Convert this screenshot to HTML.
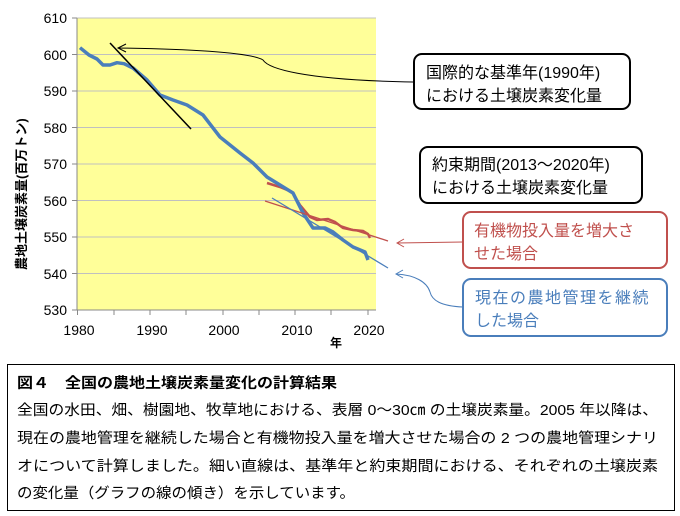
<!DOCTYPE html>
<html><head><meta charset="utf-8"><style>
html,body{margin:0;padding:0;background:#fff;}
svg{display:block;font-family:"Liberation Sans","Noto Sans CJK JP",sans-serif;}
</style></head><body>
<svg width="680" height="516" viewBox="0 0 680 516" xmlns="http://www.w3.org/2000/svg">
<rect x="77" y="18" width="299" height="292" fill="#ffff99"/>
<g stroke="#c0c0c0" stroke-width="1">
<line x1="77" y1="54.5" x2="376" y2="54.5"/><line x1="77" y1="91" x2="376" y2="91"/>
<line x1="77" y1="127.5" x2="376" y2="127.5"/><line x1="77" y1="164" x2="376" y2="164"/>
<line x1="77" y1="200.5" x2="376" y2="200.5"/><line x1="77" y1="237" x2="376" y2="237"/>
<line x1="77" y1="273.5" x2="376" y2="273.5"/><line x1="77" y1="18" x2="376" y2="18"/>
</g>
<g stroke="#888" stroke-width="1">
<line x1="77" y1="18" x2="77" y2="310"/><line x1="77" y1="310" x2="376" y2="310"/>
<line x1="72" y1="18" x2="77" y2="18"/><line x1="72" y1="54.5" x2="77" y2="54.5"/><line x1="72" y1="91" x2="77" y2="91"/><line x1="72" y1="127.5" x2="77" y2="127.5"/><line x1="72" y1="164" x2="77" y2="164"/><line x1="72" y1="200.5" x2="77" y2="200.5"/><line x1="72" y1="237" x2="77" y2="237"/><line x1="72" y1="273.5" x2="77" y2="273.5"/><line x1="72" y1="310" x2="77" y2="310"/>
<line x1="77.5" y1="310" x2="77.5" y2="315"/><line x1="114" y1="310" x2="114" y2="315"/><line x1="150" y1="310" x2="150" y2="315"/><line x1="186" y1="310" x2="186" y2="315"/><line x1="223" y1="310" x2="223" y2="315"/><line x1="259" y1="310" x2="259" y2="315"/><line x1="295" y1="310" x2="295" y2="315"/><line x1="331" y1="310" x2="331" y2="315"/><line x1="368" y1="310" x2="368" y2="315"/>
</g>
<g font-size="14" fill="#000" text-anchor="end">
<text x="67" y="23">610</text><text x="67" y="60">600</text><text x="67" y="96">590</text><text x="67" y="133">580</text><text x="67" y="169">570</text><text x="67" y="206">560</text><text x="67" y="242">550</text><text x="67" y="279">540</text><text x="67" y="315">530</text>
</g>
<g font-size="14" fill="#000" text-anchor="middle">
<text x="79" y="335">1980</text><text x="152" y="335">1990</text><text x="224" y="335">2000</text><text x="297" y="335">2010</text><text x="369" y="335">2020</text>
</g>
<text x="336" y="347" font-size="12" font-weight="bold" text-anchor="middle">年</text>
<text transform="translate(26,270) rotate(-90)" font-size="13" font-weight="bold">農地土壌炭素量(百万トン)</text>
<polyline fill="none" stroke="#c0504d" stroke-width="2.5" points="267,183 280,187 292,192 300,205 310,217 317,220 328,219 335,222 343,228 353,230 363,231 368,234 370,238"/>
<polyline fill="none" stroke="#4a7ebb" stroke-width="3.5" stroke-linejoin="round" points="80,47.7 89,55 97,59 103,65 110,65 117,62.7 124,63.7 133,68 147,80 160,95 173,100 187,105 203,115 220,137 240,153 253,163 267,177 280,185 293,193 303,213 313,228 325,228 333,232 343,240 353,247 365,252 368,260"/>
<line x1="110" y1="43" x2="191" y2="129" stroke="#000" stroke-width="1.5"/>
<line x1="265" y1="201" x2="388" y2="241" stroke="#c0504d" stroke-width="1.3"/>
<line x1="272" y1="198" x2="388" y2="268" stroke="#4a7ebb" stroke-width="1.3"/>
<path d="M118,48 C180,49 250,52 263,60 C268,68 300,80 413,82" fill="none" stroke="#000" stroke-width="1"/>
<path d="M126,44 L118,48 L126,52" fill="none" stroke="#000" stroke-width="1"/>
<path d="M463,242 L397,243" fill="none" stroke="#c0504d" stroke-width="1"/>
<path d="M404,239 L397,243 L404,247" fill="none" stroke="#c0504d" stroke-width="1"/>
<path d="M463,307 C440,306 432,300 430,292 C427,282 415,275 396,274" fill="none" stroke="#4a7ebb" stroke-width="1"/>
<path d="M403,270 L396,274 L403,278" fill="none" stroke="#4a7ebb" stroke-width="1"/>
<rect x="414" y="54" width="216" height="55" rx="8" fill="#fff" stroke="#000" stroke-width="2"/>
<rect x="420" y="147" width="222" height="56" rx="8" fill="#fff" stroke="#000" stroke-width="2"/>
<rect x="463" y="212" width="204" height="56" rx="8" fill="#fff" stroke="#c0504d" stroke-width="2"/>
<rect x="463" y="279" width="204" height="57" rx="8" fill="#fff" stroke="#4a7ebb" stroke-width="2"/>
<g font-size="16">
<text x="426" y="78">国際的な基準年(1990年)</text>
<text x="426" y="101">における土壌炭素変化量</text>
<text x="432" y="170">約束期間(2013～2020年)</text>
<text x="432" y="193">における土壌炭素変化量</text>
<text x="474" y="236" fill="#c0504d">有機物投入量を増大さ</text>
<text x="474" y="259" fill="#c0504d">せた場合</text>
<text x="475" y="303" fill="#4a7ebb" letter-spacing="1.5">現在の農地管理を継続</text>
<text x="475" y="326" fill="#4a7ebb">した場合</text>
</g>
<rect x="7.5" y="364.5" width="667" height="146" fill="#fff" stroke="#000" stroke-width="1"/>
<g font-size="14.5" fill="#000">
<text x="17" y="388" font-weight="bold" textLength="320" lengthAdjust="spacingAndGlyphs">図４　全国の農地土壌炭素量変化の計算結果</text>
<text x="17" y="415" textLength="641" lengthAdjust="spacingAndGlyphs">全国の水田、畑、樹園地、牧草地における、表層 0～30㎝ の土壌炭素量。2005 年以降は、</text>
<text x="17" y="443" textLength="641" lengthAdjust="spacingAndGlyphs">現在の農地管理を継続した場合と有機物投入量を増大させた場合の 2 つの農地管理シナリ</text>
<text x="17" y="471" textLength="641" lengthAdjust="spacingAndGlyphs">オについて計算しました。細い直線は、基準年と約束期間における、それぞれの土壌炭素</text>
<text x="17" y="498" textLength="338" lengthAdjust="spacingAndGlyphs">の変化量（グラフの線の傾き）を示しています。</text>
</g>
</svg>
</body></html>
